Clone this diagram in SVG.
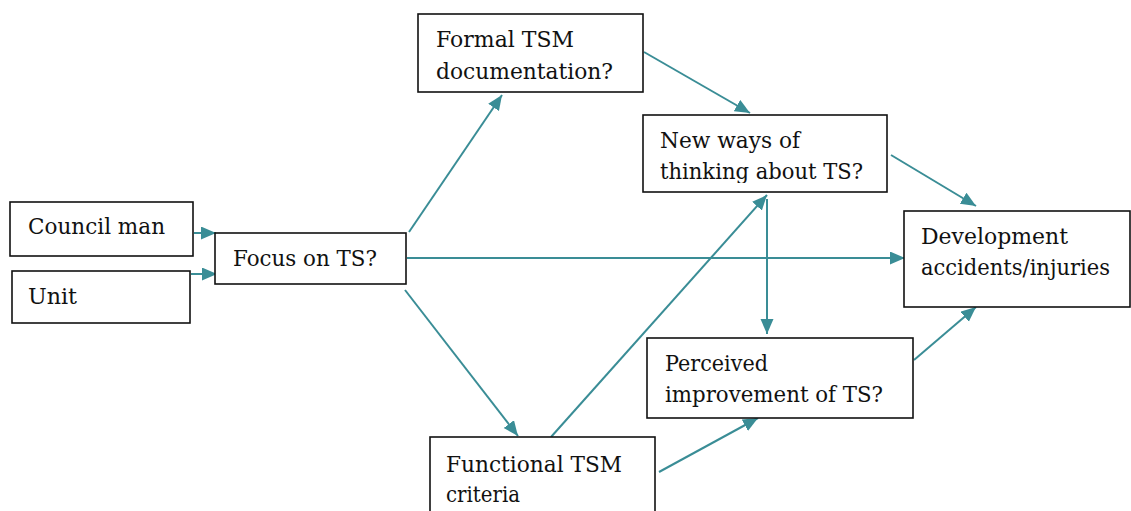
<svg xmlns="http://www.w3.org/2000/svg" width="1131" height="511" viewBox="0 0 1131 511">
<style>
.box{fill:#fff;stroke:#111;stroke-width:1.6}
.c{stroke:#3a8d96;stroke-width:2;fill:none;marker-end:url(#ah)}
</style>
<defs>
<marker id="ah" markerUnits="userSpaceOnUse" markerWidth="16" markerHeight="14" refX="15" refY="6.5" orient="auto">
<path d="M0,0 L15,6.5 L0,13 z" fill="#3a8d96"/>
</marker>
<clipPath id="clipNew"><rect x="643" y="115" width="245" height="68"/></clipPath>
</defs>
<rect width="1131" height="511" fill="#fff"/>
<g id="connectors">
<line class="c" x1="194" y1="233" x2="216" y2="233"/>
<line class="c" x1="191" y1="274" x2="217" y2="274"/>
<line class="c" x1="409" y1="232" x2="502" y2="95"/>
<line class="c" x1="644" y1="52" x2="750" y2="113"/>
<line class="c" x1="891" y1="155" x2="976" y2="206"/>
<line class="c" x1="407" y1="258" x2="905" y2="258"/>
<line class="c" x1="767" y1="199" x2="767" y2="334"/>
<line class="c" x1="551" y1="437" x2="767" y2="195"/>
<line class="c" x1="405" y1="290" x2="518" y2="436"/>
<line class="c" x1="659" y1="472" x2="758" y2="418"/>
<line class="c" x1="914" y1="360" x2="976" y2="307"/>
</g>
<g font-family="DejaVu Serif, Liberation Serif, serif" font-size="22" fill="#111">
<g id="council">
<rect class="box" x="10" y="202" width="183" height="54"/>
<text x="28" y="234" textLength="137" lengthAdjust="spacingAndGlyphs">Council man</text>
</g>
<g id="unit">
<rect class="box" x="12" y="271" width="178" height="52"/>
<text x="28" y="304" textLength="49" lengthAdjust="spacingAndGlyphs">Unit</text>
</g>
<g id="focus">
<rect class="box" x="215" y="233" width="191" height="51"/>
<text x="233" y="266" textLength="144" lengthAdjust="spacingAndGlyphs">Focus on TS?</text>
</g>
<g id="formal">
<rect class="box" x="418" y="14" width="225" height="78"/>
<text x="436" y="47" textLength="138" lengthAdjust="spacingAndGlyphs">Formal TSM</text>
<text x="436" y="79" textLength="177" lengthAdjust="spacingAndGlyphs">documentation?</text>
</g>
<g id="newways">
<rect class="box" x="643" y="115" width="244" height="77"/>
<g clip-path="url(#clipNew)">
<text x="660" y="148" textLength="140" lengthAdjust="spacingAndGlyphs">New ways of</text>
<text x="660" y="179" textLength="203" lengthAdjust="spacingAndGlyphs">thinking about TS?</text>
</g>
</g>
<g id="development">
<rect class="box" x="904" y="211" width="226" height="96"/>
<text x="921" y="244" textLength="147" lengthAdjust="spacingAndGlyphs">Development</text>
<text x="921" y="275" textLength="189" lengthAdjust="spacingAndGlyphs">accidents/injuries</text>
</g>
<g id="perceived">
<rect class="box" x="647" y="338" width="266" height="80"/>
<text x="665" y="371" textLength="103" lengthAdjust="spacingAndGlyphs">Perceived</text>
<text x="665" y="402" textLength="218" lengthAdjust="spacingAndGlyphs">improvement of TS?</text>
</g>
<g id="functional">
<rect class="box" x="430" y="437" width="225" height="80"/>
<text x="446" y="472" textLength="176" lengthAdjust="spacingAndGlyphs">Functional TSM</text>
<text x="446" y="502" textLength="74" lengthAdjust="spacingAndGlyphs">criteria</text>
</g>
</g>
</svg>
